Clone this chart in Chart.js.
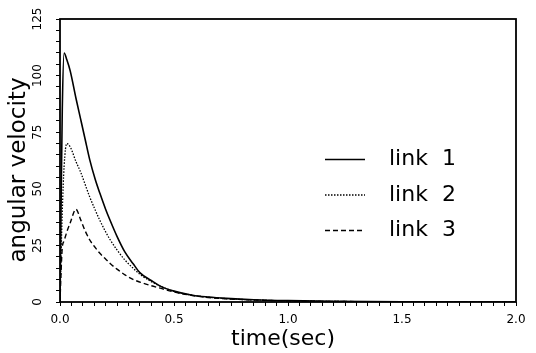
<!DOCTYPE html>
<html>
<head>
<meta charset="utf-8">
<script src="https://cdn.jsdelivr.net/npm/chart.js@4"></script>
<style>
  body { margin: 0; background: #fff; }
  #wrap { width: 536px; height: 353px; }
</style>
</head>
<body>
<div id="wrap"><canvas id="chart"></canvas></div>
<script>
// values
const time  = [0, 0.005, 0.01, 0.018, 0.03, 0.045, 0.07, 0.09, 0.11, 0.13, 0.155, 0.175, 0.2, 0.22, 0.25, 0.285, 0.32, 0.35, 0.4, 0.44, 0.5, 0.58, 0.65, 0.73, 0.85, 1.0, 1.2, 1.5, 2.0];
const link1 = [0, 45, 85, 110, 107, 102, 90, 81, 72, 63, 54, 48, 41, 36, 29, 22, 17, 13, 9.5, 7, 4.8, 3, 2.2, 1.6, 1, 0.6, 0.3, 0.1, 0];
const link2 = [0, 22, 40, 60, 70, 68.5, 62, 57.5, 52, 46.5, 40.5, 36, 31, 27.5, 23, 18.5, 15, 12.3, 9, 7, 4.7, 3, 2.1, 1.5, 0.9, 0.5, 0.25, 0.1, 0];
const link3 = [0, 14, 24, 27, 31, 35, 41, 36.5, 31.5, 27.5, 24, 21.5, 19, 17, 14.5, 12, 10, 8.8, 7.2, 6.1, 4.4, 2.9, 2, 1.4, 0.9, 0.5, 0.25, 0.1, 0];
const seriesNames = ['link  1', 'link  2', 'link  3'];
const yTickLabels = [0, 25, 50, 75, 100, 125];
const xTickLabels = ['0.0', '0.5', '1.0', '1.5', '2.0'];

Chart.defaults.font.family = '"DejaVu Sans", sans-serif';
Chart.defaults.color = '#000';

const pts = arr => time.map((t, i) => ({x: t, y: arr[i]}));

// frame, rotated y labels, axis titles and the legend inside the plot
const extras = {
  id: 'extras',
  afterDraw(chart) {
    const {ctx, chartArea: a, scales: {y}} = chart;
    ctx.save();
    ctx.strokeStyle = '#000';
    ctx.lineWidth = 1.8;
    ctx.strokeRect(a.left, a.top, a.right - a.left, a.bottom - a.top);

    ctx.fillStyle = '#000';
    ctx.textAlign = 'center';
    ctx.textBaseline = 'middle';
    ctx.font = '12px "DejaVu Sans"';
    yTickLabels.forEach(v => {
      ctx.save();
      ctx.translate(38, y.getPixelForValue(v));
      ctx.rotate(-Math.PI / 2);
      ctx.fillText(String(v), 0, 0);
      ctx.restore();
    });

    ctx.font = '23px "DejaVu Sans"';
    ctx.save();
    ctx.translate(19, 170);
    ctx.rotate(-Math.PI / 2);
    ctx.fillText('angular velocity', 0, 0);
    ctx.restore();

    ctx.font = '22px "DejaVu Sans"';
    ctx.fillText('time(sec)', 283, 339);

    chart.data.datasets.forEach((ds, i) => {
      const ly = 159.5 + i * 35.5;
      ctx.beginPath();
      ctx.setLineDash(ds.borderDash || []);
      ctx.lineWidth = ds.borderWidth;
      ctx.moveTo(325, ly);
      ctx.lineTo(365, ly);
      ctx.stroke();
      ctx.setLineDash([]);
      ctx.textAlign = 'left';
      ctx.fillText(ds.label, 389, ly);
    });
    ctx.restore();
  }
};

new Chart(document.getElementById('chart'), {
  type: 'line',
  data: {
    datasets: [
      {label: seriesNames[0], data: pts(link1), borderColor: '#000', borderWidth: 1.6, borderDash: []},
      {label: seriesNames[1], data: pts(link2), borderColor: '#000', borderWidth: 1.3, borderDash: [1.5, 1.5]},
      {label: seriesNames[2], data: pts(link3), borderColor: '#000', borderWidth: 1.4, borderDash: [5, 3]}
    ]
  },
  options: {
    responsive: true,
    maintainAspectRatio: false,
    animation: false,
    layout: {padding: {top: 19, right: 20, left: 0, bottom: 0}},
    elements: {point: {radius: 0}, line: {cubicInterpolationMode: 'monotone'}},
    plugins: {legend: {display: false}, tooltip: {enabled: false}},
    scales: {
      x: {
        type: 'linear', min: 0, max: 2,
        border: {display: false},
        grid: {drawOnChartArea: false, color: '#000', tickLength: 4, lineWidth: 1},
        ticks: {
          stepSize: 0.05, autoSkip: false, maxRotation: 0, padding: 7,
          font: {size: 12},
          callback: v => {
            const k = v * 2;
            return Math.abs(k - Math.round(k)) < 1e-6 ? xTickLabels[Math.round(k)] : '';
          }
        },
        afterFit: s => { s.height = 51; s.paddingLeft = 0; s.paddingRight = 0; }
      },
      y: {
        min: 0, max: 125,
        border: {display: false},
        grid: {drawOnChartArea: false, color: '#000', tickLength: 4, lineWidth: 1},
        ticks: {stepSize: 5, display: false},
        afterFit: s => { s.width = 60; }
      }
    }
  },
  plugins: [extras]
});
</script>
</body>
</html>
